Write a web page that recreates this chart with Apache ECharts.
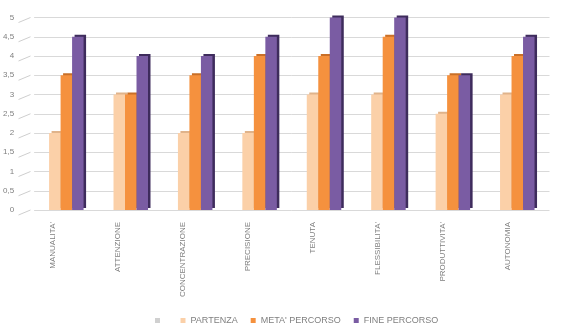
<!DOCTYPE html>
<html>
<head>
<meta charset="utf-8">
<script src="https://cdn.jsdelivr.net/npm/echarts@6/dist/echarts.min.js"></script>
<style>html,body{margin:0;padding:0;background:#fff;}#c{width:564px;height:323px;}</style>
</head>
<body>
<div id="c"></div>
<script>
var categories = ["MANUALITA'", "ATTENZIONE", "CONCENTRAZIONE", "PRECISIONE", "TENUTA", "FLESSIBILITA'", "PRODUTTIVITA'", "AUTONOMIA"];
var partenza = [2, 3, 2, 2, 3, 3, 2.5, 3];
var metaPercorso = [3.5, 3, 3.5, 4, 4, 4.5, 3.5, 4];
var finePercorso = [4.5, 4, 4, 4.5, 5, 5, 3.5, 4.5];
var seriesNames = [" ", "PARTENZA", "META' PERCORSO", "FINE PERCORSO"];
var yMin = 0, yMax = 5, yStep = 0.5;

var chart = echarts.init(document.getElementById('c'), null, {renderer: 'canvas'});
var font = 'Liberation Sans, Arial, sans-serif';
function barSeries(name, data, color, side) {
  return {
    name: name, type: 'bar', data: data, xAxisIndex: 0, yAxisIndex: 0,
    barWidth: 11.5, barGap: '0%',
    itemStyle: {color: color, shadowColor: side, shadowBlur: 0, shadowOffsetX: 2.5, shadowOffsetY: -2},
    emphasis: {disabled: true}
  };
}
var option = {
  backgroundColor: '#ffffff',
  animation: false,
  legend: {
    data: seriesNames,
    left: 150, top: 311,
    itemWidth: 5, itemHeight: 5, itemGap: 13,
    icon: 'rect',
    textStyle: {fontSize: 9, color: '#7f7f7f', fontFamily: font}
  },
  grid: [
    {left: 29.5, right: 14.5, top: 17.5, bottom: 113},
    {left: 20.5, right: 23.5, top: 17.5, bottom: 113}
  ],
  xAxis: [
    {type: 'category', data: categories, gridIndex: 0,
     axisLine: {show: false}, axisTick: {show: false}, axisLabel: {show: false}, splitLine: {show: false}},
    {type: 'category', data: categories, gridIndex: 1,
     axisLine: {show: false}, axisTick: {show: false}, splitLine: {show: false},
     axisLabel: {rotate: 90, margin: 12, fontSize: 8, color: '#7f7f7f', fontFamily: font, interval: 0}}
  ],
  yAxis: [
    {type: 'value', min: yMin, max: yMax, interval: yStep, gridIndex: 0,
     axisLine: {show: false}, axisTick: {show: false},
     axisLabel: {margin: 20, fontSize: 8, color: '#7f7f7f', fontFamily: font,
       formatter: function (v) { return String(v).replace('.', ','); }},
     splitLine: {lineStyle: {color: '#d9d9d9', width: 1}}},
    {type: 'value', min: yMin, max: yMax, interval: yStep, gridIndex: 1, show: false}
  ],
  series: [
    {name: seriesNames[0], type: 'bar', data: [], itemStyle: {color: '#d0d0d0'}, xAxisIndex: 0, yAxisIndex: 0},
    barSeries(seriesNames[1], partenza, '#fbd0a8', '#e0b38a'),
    barSeries(seriesNames[2], metaPercorso, '#f5913e', '#c96f27'),
    barSeries(seriesNames[3], finePercorso, '#7a5ca3', '#3e2c5c')
  ]
};
chart.setOption(option);

// decorative diagonal floor-edges of the 3D gridlines, placed through the value scale
var g = [];
for (var v = yMin; v <= yMax + 1e-9; v += yStep) {
  var p = chart.convertToPixel({gridIndex: 0}, [0, v]);
  var left = 29.5;
  g.push({type: 'line', shape: {x1: left - 11, y1: p[1] + 5, x2: left + 1, y2: p[1]},
          style: {stroke: '#cfcfcf', lineWidth: 1}, silent: true});
}
chart.setOption({graphic: g});
</script>
</body>
</html>
